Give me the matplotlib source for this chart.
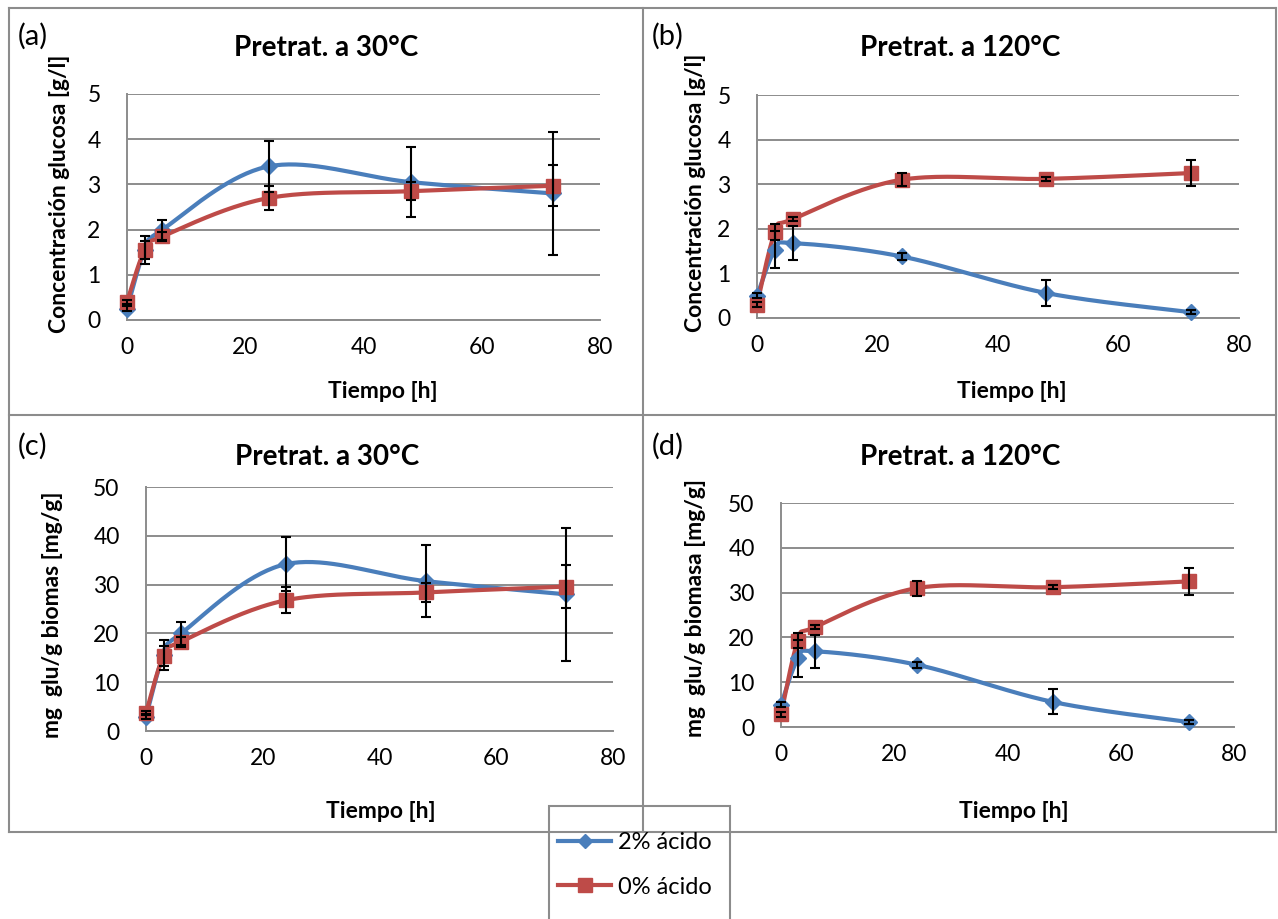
import numpy as np
import matplotlib
matplotlib.use("Agg")
import matplotlib.pyplot as plt
from matplotlib.lines import Line2D
from matplotlib.patches import Rectangle

plt.rcParams['font.family'] = ['Lato', 'DejaVu Sans']

# ---------------- data ----------------
tiempo = [0, 3, 6, 24, 48, 72]
series_labels = ["2% ácido", "0% ácido"]

# (a) glucose g/l, pretreatment 30 °C
a_2 = [0.25, 1.55, 2.0, 3.4, 3.05, 2.8]
a_2_err = [0.05, 0.3, 0.22, 0.57, 0.77, 1.37]
a_0 = [0.4, 1.55, 1.85, 2.7, 2.85, 2.97]
a_0_err = [0.05, 0.2, 0.1, 0.27, 0.2, 0.45]

# (b) glucose g/l, pretreatment 120 °C
b_2 = [0.5, 1.53, 1.68, 1.38, 0.56, 0.13]
b_2_err = [0.05, 0.42, 0.38, 0.07, 0.29, 0.05]
b_0 = [0.3, 1.93, 2.22, 3.1, 3.12, 3.25]
b_0_err = [0.05, 0.17, 0.05, 0.15, 0.05, 0.3]

# (c) mg glu / g biomass, 30 °C
c_2 = [2.9, 15.6, 20.0, 34.2, 30.7, 28.0]
c_2_err = [0.5, 3.1, 2.3, 5.5, 7.4, 13.7]
c_0 = [3.7, 15.4, 18.3, 26.8, 28.4, 29.6]
c_0_err = [0.5, 2.0, 1.0, 2.7, 2.0, 4.4]

# (d) mg glu / g biomass, 120 °C
d_2 = [5.0, 15.3, 16.9, 13.9, 5.6, 1.1]
d_2_err = [0.5, 4.1, 3.7, 0.7, 2.8, 0.5]
d_0 = [2.8, 19.3, 22.3, 31.0, 31.2, 32.5]
d_0_err = [0.5, 1.7, 0.5, 1.7, 0.5, 3.0]

panels = [
    dict(tag="(a)", title="Pretrat. a 30°C", ylabel="Concentración glucosa [g/l]",
         s2=a_2, e2=a_2_err, s0=a_0, e0=a_0_err, ymax=5, ystep=1,
         box=(127, 600, 94, 320), tag_xy=(18, 36), title_xy=(326, 48),
         xl_xy=(383, 391), yl_xy=(60, 194)),
    dict(tag="(b)", title="Pretrat. a 120°C", ylabel="Concentración glucosa [g/l]",
         s2=b_2, e2=b_2_err, s0=b_0, e0=b_0_err, ymax=5, ystep=1,
         box=(757, 1239, 95, 318), tag_xy=(652, 36), title_xy=(960, 48),
         xl_xy=(1012, 391), yl_xy=(696, 193)),
    dict(tag="(c)", title="Pretrat. a 30°C", ylabel="mg  glu/g biomas [mg/g]",
         s2=c_2, e2=c_2_err, s0=c_0, e0=c_0_err, ymax=50, ystep=10,
         box=(146, 613, 487, 731), tag_xy=(18, 446), title_xy=(327, 457),
         xl_xy=(381, 812), yl_xy=(53, 615)),
    dict(tag="(d)", title="Pretrat. a 120°C", ylabel="mg  glu/g biomasa [mg/g]",
         s2=d_2, e2=d_2_err, s0=d_0, e0=d_0_err, ymax=50, ystep=10,
         box=(781, 1234, 503, 727), tag_xy=(652, 446), title_xy=(960, 457),
         xl_xy=(1014, 812), yl_xy=(695, 608)),
]

W, H = 1278, 919
BLUE = "#4A7EBB"
RED = "#BE4B48"
GRID = "#8C8C8C"

fig = plt.figure(figsize=(W / 100, H / 100), dpi=100)


def fx(x):
    return x / W


def fy(y):
    return 1 - y / H


def smooth(x, y, n=40):
    """Excel-style smoothed line (Catmull-Rom Bezier)."""
    p = np.column_stack([x, y]).astype(float)
    out = []
    m = len(p)
    t = np.linspace(0, 1, n)[:, None]
    for i in range(m - 1):
        p0 = p[i - 1] if i > 0 else p[i]
        p1 = p[i]
        p2 = p[i + 1]
        p3 = p[i + 2] if i + 2 < m else p[i + 1]
        c1 = p1 + (p2 - p0) / 6.0
        c2 = p2 - (p3 - p1) / 6.0
        seg = ((1 - t) ** 3) * p1 + 3 * ((1 - t) ** 2) * t * c1 + 3 * (1 - t) * t ** 2 * c2 + t ** 3 * p2
        out.append(seg if i == 0 else seg[1:])
    s = np.vstack(out)
    return s[:, 0], s[:, 1]


for pd_ in panels:
    l, r, t, b = pd_["box"]
    ax = fig.add_axes([fx(l), fy(b), (r - l) / W, (b - t) / H])
    ax.set_xlim(0, 80)
    ax.set_ylim(0, pd_["ymax"])
    ax.set_xticks(np.arange(0, 81, 20))
    ax.set_yticks(np.arange(0, pd_["ymax"] + 0.001, pd_["ystep"]))
    ax.tick_params(axis="x", length=0, labelsize=16.5, pad=12, colors="black")
    ax.tick_params(axis="y", length=0, labelsize=16.5, pad=19, colors="black")
    ax.grid(axis="y", color=GRID, lw=1.4)
    ax.set_axisbelow(True)
    for sp in ["top", "right"]:
        ax.spines[sp].set_visible(False)
    for sp in ["left", "bottom"]:
        ax.spines[sp].set_color(GRID)
        ax.spines[sp].set_linewidth(1.4)

    for ys, es, col, mk, ms in [(pd_["s2"], pd_["e2"], BLUE, "D", 8.5),
                                (pd_["s0"], pd_["e0"], RED, "s", 9.5)]:
        sx, sy = smooth(tiempo, ys)
        ax.plot(sx, sy, color=col, lw=3.0, zorder=3, clip_on=False, solid_capstyle="round")
        ax.plot(tiempo, ys, ls="none", marker=mk, ms=ms, color=col, zorder=4, clip_on=False)
        ax.errorbar(tiempo, ys, yerr=es, fmt="none", ecolor="black", elinewidth=1.5,
                    capsize=3.8, capthick=1.5, zorder=5, clip_on=False)

    fig.text(fx(pd_["title_xy"][0]), fy(pd_["title_xy"][1]), pd_["title"], fontsize=20,
             fontweight="bold", ha="center", va="center")
    fig.text(fx(pd_["xl_xy"][0]), fy(pd_["xl_xy"][1]), "Tiempo [h]", fontsize=16.5,
             fontweight="bold", ha="center", va="center")
    fig.text(fx(pd_["yl_xy"][0]), fy(pd_["yl_xy"][1]), pd_["ylabel"], fontsize=16.5,
             fontweight="bold", ha="center", va="center", rotation=90)
    fig.text(fx(pd_["tag_xy"][0]), fy(pd_["tag_xy"][1]), pd_["tag"], fontsize=21,
             ha="left", va="center")


# panel borders
def fline(x0, y0, x1, y1):
    fig.add_artist(Line2D([fx(x0), fx(x1)], [fy(y0), fy(y1)], color=GRID, lw=1.5))


fline(9, 8, 1276, 8)
fline(9, 415, 1276, 415)
fline(9, 832, 1276, 832)
fline(9, 8, 9, 832)
fline(643, 8, 643, 832)
fline(1276, 8, 1276, 832)

# legend
fig.add_artist(Rectangle((fx(549), fy(925)), (730 - 549) / W, (925 - 806) / H,
                         transform=fig.transFigure, facecolor="white", edgecolor=GRID, lw=1.5))
handles = [Line2D([], [], color=BLUE, lw=3.0, marker="D", ms=7),
           Line2D([], [], color=RED, lw=3.0, marker="s", ms=9.5)]
fig.legend(handles, series_labels, loc="upper left", bbox_to_anchor=(fx(558), fy(832)),
           frameon=False, fontsize=17, handlelength=2.25, labelspacing=1.0,
           handletextpad=0.3, borderpad=0, borderaxespad=0)

fig.savefig("out.png", dpi=100)
